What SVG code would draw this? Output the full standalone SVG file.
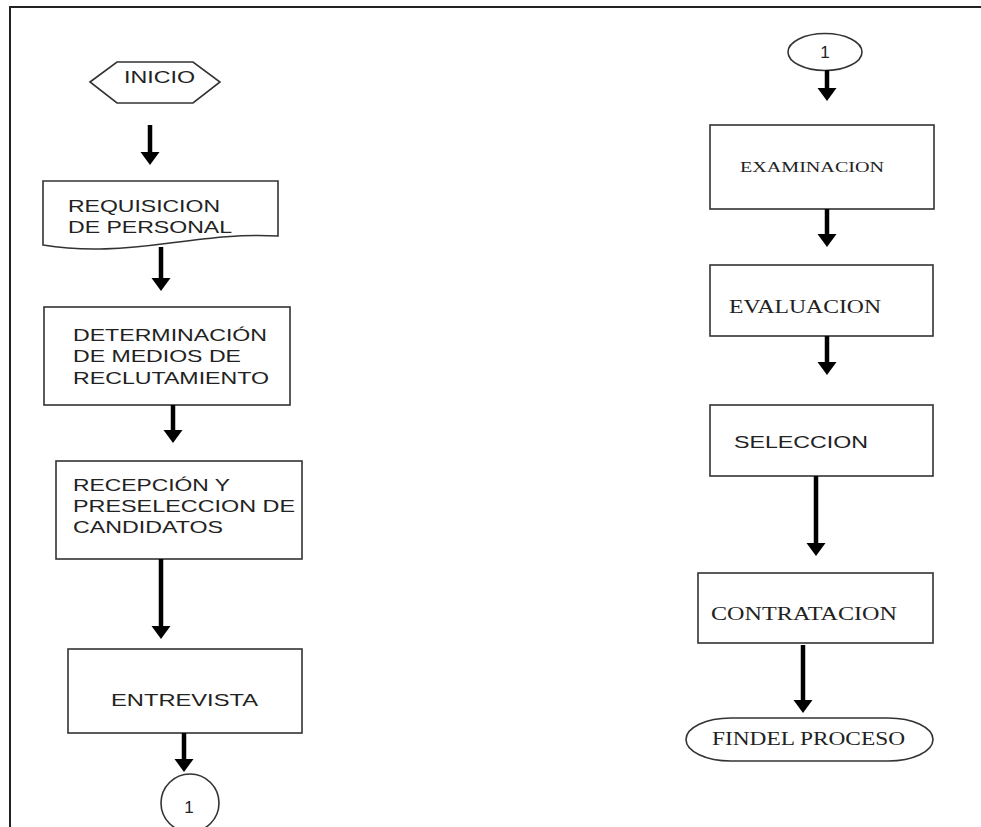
<svg xmlns="http://www.w3.org/2000/svg" width="981" height="827" viewBox="0 0 981 827">
<defs>
<style>
.shape{fill:#fff;stroke:#333;stroke-width:1.6}
.sans{font-family:"Liberation Sans",Arial,sans-serif;font-size:17px;fill:#222}
.serif{font-family:"Liberation Serif","Times New Roman",serif;fill:#222}
.conn line{stroke:#000;stroke-width:4.5}
</style>
<marker id="ah" markerUnits="userSpaceOnUse" markerWidth="14" markerHeight="20" refX="1" refY="9.5" orient="auto" viewBox="0 0 14 19">
<path d="M0,0 L13,9.5 L0,19 Z" fill="#000"/>
</marker>
</defs>
<rect width="981" height="827" fill="#fff"/>
<g id="frame" fill="none" stroke="#222" stroke-width="2">
<line x1="9" y1="7" x2="981" y2="7"/>
<line x1="10" y1="7" x2="10" y2="827"/>
</g>
<g id="inicio">
<polygon class="shape" points="90,82 117,62 193,62 220,82 193,103 117,103"/>
<text class="sans" x="124" y="83" textLength="71" lengthAdjust="spacingAndGlyphs">INICIO</text>
</g>
<g id="requisicion">
<path class="shape" d="M43,181 H278 V236 C240,234 210,238 170,243 C125,249 85,252 43,245 Z"/>
<text class="sans" x="68" y="212" textLength="152" lengthAdjust="spacingAndGlyphs">REQUISICION</text>
<text class="sans" x="68" y="233" textLength="164" lengthAdjust="spacingAndGlyphs">DE PERSONAL</text>
</g>
<g id="determinacion">
<rect class="shape" x="44" y="307" width="246" height="98"/>
<text class="sans" x="73" y="341" textLength="194" lengthAdjust="spacingAndGlyphs">DETERMINACIÓN</text>
<text class="sans" x="73" y="362" textLength="168" lengthAdjust="spacingAndGlyphs">DE MEDIOS DE</text>
<text class="sans" x="73" y="384" textLength="196" lengthAdjust="spacingAndGlyphs">RECLUTAMIENTO</text>
</g>
<g id="recepcion">
<rect class="shape" x="56" y="461" width="246" height="98"/>
<text class="sans" x="73" y="491" textLength="157" lengthAdjust="spacingAndGlyphs">RECEPCIÓN Y</text>
<text class="sans" x="73" y="512" textLength="222" lengthAdjust="spacingAndGlyphs">PRESELECCION DE</text>
<text class="sans" x="73" y="533" textLength="150" lengthAdjust="spacingAndGlyphs">CANDIDATOS</text>
</g>
<g id="entrevista">
<rect class="shape" x="68" y="649" width="234" height="84"/>
<text class="sans" x="111" y="706" textLength="147" lengthAdjust="spacingAndGlyphs">ENTREVISTA</text>
</g>
<g id="conector1a">
<circle class="shape" cx="190" cy="803" r="29"/>
<text class="sans" x="189" y="813" text-anchor="middle">1</text>
</g>
<g id="conector1b">
<ellipse class="shape" cx="825" cy="52" rx="37" ry="18.5"/>
<text class="sans" x="825" y="58" text-anchor="middle">1</text>
</g>
<g id="examinacion">
<rect class="shape" x="710" y="125" width="224" height="84"/>
<text class="serif" x="740" y="172" font-size="14" textLength="144" lengthAdjust="spacingAndGlyphs">EXAMINACION</text>
</g>
<g id="evaluacion">
<rect class="shape" x="710" y="265" width="223" height="71"/>
<text class="serif" x="729" y="313" font-size="19" textLength="152" lengthAdjust="spacingAndGlyphs">EVALUACION</text>
</g>
<g id="seleccion">
<rect class="shape" x="710" y="405" width="223" height="71"/>
<text class="sans" x="734" y="448" textLength="134" lengthAdjust="spacingAndGlyphs">SELECCION</text>
</g>
<g id="contratacion">
<rect class="shape" x="698" y="573" width="235" height="70"/>
<text class="serif" x="711" y="620" font-size="19" textLength="186" lengthAdjust="spacingAndGlyphs">CONTRATACION</text>
</g>
<g id="fin">
<rect class="shape" x="686" y="718" width="247" height="43" rx="45" ry="21.5"/>
<text class="serif" x="712" y="745" font-size="18" textLength="193" lengthAdjust="spacingAndGlyphs">FINDEL PROCESO</text>
</g>
<g id="connectors" class="conn">
<line x1="150" y1="125" x2="150" y2="153" marker-end="url(#ah)"/>
<line x1="161" y1="247" x2="161" y2="279" marker-end="url(#ah)"/>
<line x1="173" y1="405" x2="173" y2="431" marker-end="url(#ah)"/>
<line x1="161" y1="559" x2="161" y2="627" marker-end="url(#ah)"/>
<line x1="184" y1="733" x2="184" y2="760" marker-end="url(#ah)"/>
<line x1="827" y1="70" x2="827" y2="89" marker-end="url(#ah)"/>
<line x1="827" y1="209" x2="827" y2="235" marker-end="url(#ah)"/>
<line x1="827" y1="336" x2="827" y2="363" marker-end="url(#ah)"/>
<line x1="816" y1="476" x2="816" y2="544" marker-end="url(#ah)"/>
<line x1="803" y1="645" x2="803" y2="701" marker-end="url(#ah)"/>
</g>
</svg>
